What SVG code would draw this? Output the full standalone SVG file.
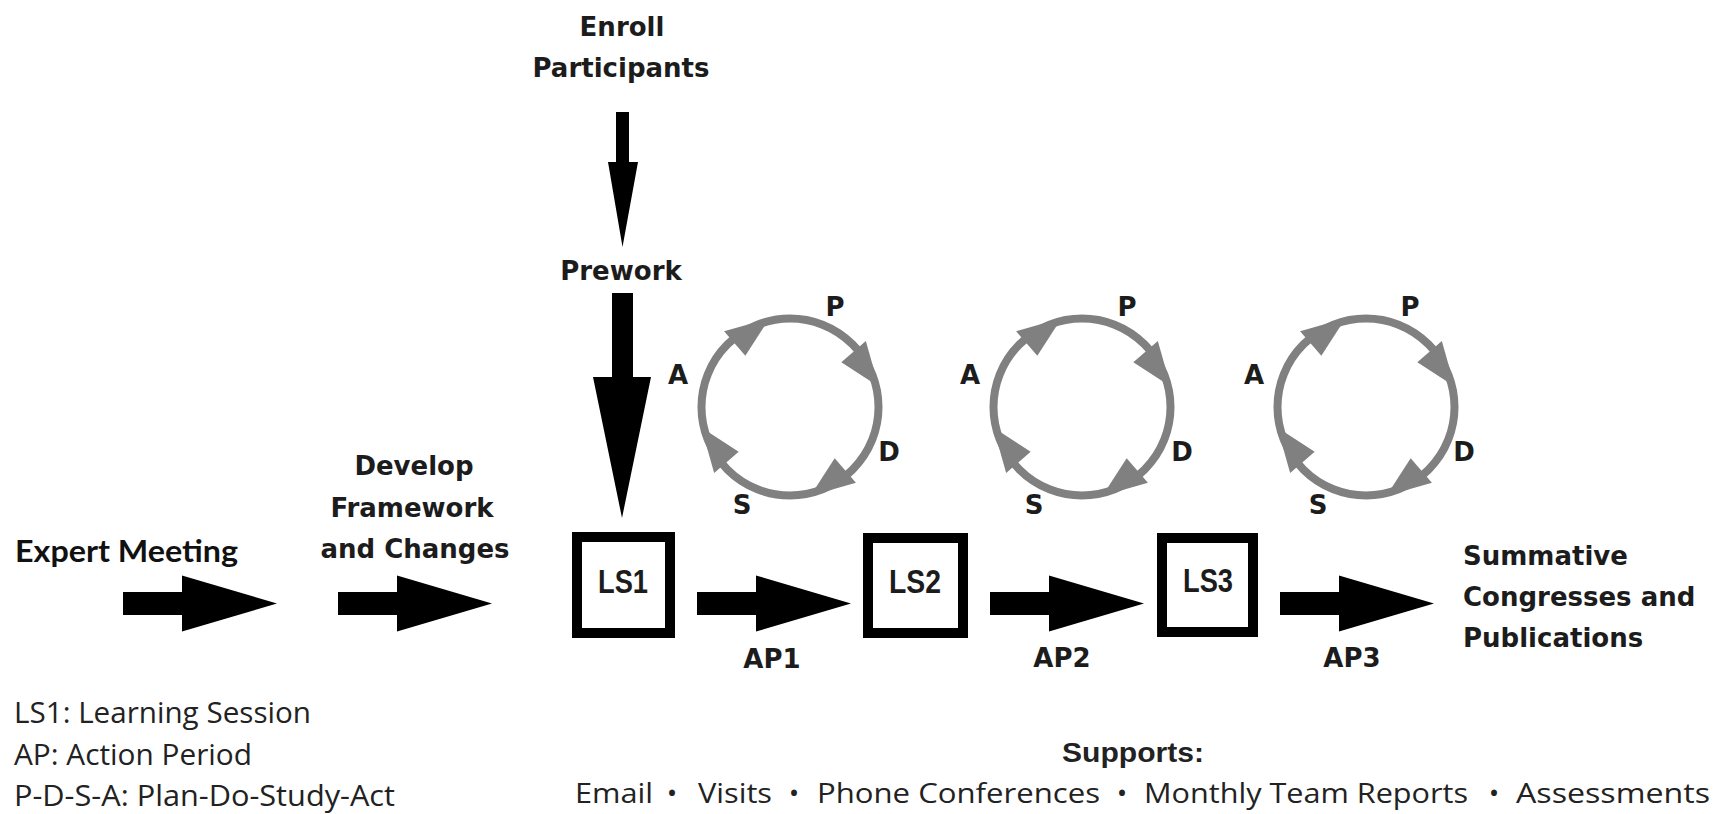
<svg xmlns="http://www.w3.org/2000/svg" xmlns:xlink="http://www.w3.org/1999/xlink" width="1727" height="814" viewBox="0 0 1727 814">
  <style>
    .lbl { font-family: "DejaVu Sans", "Liberation Sans", sans-serif; font-weight: bold; font-size: 26px; fill: #1c1c1c; }
    .mid { text-anchor: middle; }
    .expert { font-family: Lato, "Open Sans", sans-serif; font-weight: bold; font-size: 30px; fill: #111; }
    .ls { font-family: "Liberation Sans", Arial, sans-serif; font-weight: bold; font-size: 34px; fill: #1c1c1c; text-anchor: middle; }
    .legend { font-family: "Open Sans", "Liberation Sans", sans-serif; font-size: 28.5px; fill: #222; }
    .sup { font-family: "Open Sans", "Liberation Sans", sans-serif; font-size: 28px; fill: #222; }
    .supb { font-family: "Liberation Sans", Arial, sans-serif; font-weight: bold; font-size: 27px; fill: #222; text-anchor: middle; }
    .ring { fill: none; stroke: #808080; stroke-width: 8; }
    .ringhead { fill: #808080; }
    .box { fill: #fff; stroke: #000; stroke-width: 10; }
    .blk { fill: #000; }
  </style>
  <defs>
    <!-- one clockwise arrowhead on the ring, drawn at angle 0 -->
    <polygon id="ringHead" class="ringhead" points="66,-16.5 97.5,-24.3 88.3,22"/>
    <!-- P-D-S-A cycle ring with four clockwise arrowheads -->
    <g id="cycle">
      <circle class="ring" cx="0" cy="0" r="88.5"/>
      <use xlink:href="#ringHead" transform="rotate(-117)"/>
      <use xlink:href="#ringHead" transform="rotate(-27)"/>
      <use xlink:href="#ringHead" transform="rotate(63)"/>
      <use xlink:href="#ringHead" transform="rotate(153)"/>
    </g>
    <!-- block arrow pointing right, origin at tail centre -->
    <path id="blockRight" class="blk" d="M0,-11.5 H59 V-28 L154,0 L59,28 V11.5 H0 Z"/>
  </defs>

  <rect width="1727" height="814" fill="#fff"/>

  <!-- connectors -->
  <g id="connectors">
    <path id="arrow-enroll" class="blk" d="M616,112 H629 V162 H638 L622.5,247 L608,162 H616 Z"/>
    <path id="arrow-prework" class="blk" d="M612,293 H633 V377 H651 L622,518 L593,377 H612 Z"/>
    <use id="arrow-expert" xlink:href="#blockRight" x="123" y="603.5"/>
    <use id="arrow-develop" xlink:href="#blockRight" x="338" y="603.5"/>
    <use id="arrow-ap1" xlink:href="#blockRight" x="697" y="603.5"/>
    <use id="arrow-ap2" xlink:href="#blockRight" x="990" y="603.5"/>
    <use id="arrow-ap3" xlink:href="#blockRight" x="1280" y="603.5"/>
  </g>

  <g id="enroll">
    <text class="lbl mid" x="622" y="36">Enroll</text>
    <text class="lbl mid" x="621" y="77">Participants</text>
  </g>
  <g id="prework">
    <text class="lbl mid" x="621" y="280">Prework</text>
  </g>
  <g id="expert-meeting">
    <text class="expert" x="15" y="562" textLength="223" lengthAdjust="spacingAndGlyphs">Expert Meeting</text>
  </g>
  <g id="develop">
    <text class="lbl mid" x="414" y="475">Develop</text>
    <text class="lbl mid" x="412" y="517">Framework</text>
    <text class="lbl mid" x="415" y="558">and Changes</text>
  </g>

  <g id="ls1">
    <rect class="box" x="577" y="537" width="93" height="96"/>
    <text class="ls" x="623" y="593" textLength="50" lengthAdjust="spacingAndGlyphs">LS1</text>
  </g>
  <g id="ls2">
    <rect class="box" x="868" y="538" width="95" height="95"/>
    <text class="ls" x="915" y="593" textLength="52" lengthAdjust="spacingAndGlyphs">LS2</text>
  </g>
  <g id="ls3">
    <rect class="box" x="1162" y="538" width="91" height="94"/>
    <text class="ls" x="1208" y="592" textLength="50" lengthAdjust="spacingAndGlyphs">LS3</text>
  </g>

  <g id="ap-labels">
    <text class="lbl mid" x="772" y="668">AP1</text>
    <text class="lbl mid" x="1062" y="667">AP2</text>
    <text class="lbl mid" x="1352" y="667">AP3</text>
  </g>

  <g id="pdsa1">
    <use xlink:href="#cycle" x="790" y="407"/>
    <text class="lbl mid" x="678" y="384">A</text>
    <text class="lbl mid" x="835" y="316">P</text>
    <text class="lbl mid" x="889" y="461">D</text>
    <text class="lbl mid" x="742" y="514">S</text>
  </g>
  <g id="pdsa2">
    <use xlink:href="#cycle" x="1082" y="407"/>
    <text class="lbl mid" x="970" y="384">A</text>
    <text class="lbl mid" x="1127" y="316">P</text>
    <text class="lbl mid" x="1182" y="461">D</text>
    <text class="lbl mid" x="1034" y="514">S</text>
  </g>
  <g id="pdsa3">
    <use xlink:href="#cycle" x="1366" y="407"/>
    <text class="lbl mid" x="1254" y="384">A</text>
    <text class="lbl mid" x="1410" y="316">P</text>
    <text class="lbl mid" x="1464" y="461">D</text>
    <text class="lbl mid" x="1318" y="514">S</text>
  </g>

  <g id="summative">
    <text class="lbl" x="1463" y="565">Summative</text>
    <text class="lbl" x="1463" y="606">Congresses and</text>
    <text class="lbl" x="1463" y="647">Publications</text>
  </g>

  <g id="legend">
    <text class="legend" x="14" y="723" textLength="297" lengthAdjust="spacingAndGlyphs">LS1: Learning Session</text>
    <text class="legend" x="14" y="765" textLength="238" lengthAdjust="spacingAndGlyphs">AP: Action Period</text>
    <text class="legend" x="14" y="806" textLength="381" lengthAdjust="spacingAndGlyphs">P-D-S-A: Plan-Do-Study-Act</text>
  </g>

  <g id="supports">
    <text class="supb" x="1133" y="762" textLength="142" lengthAdjust="spacingAndGlyphs">Supports:</text>
    <text class="sup" x="575" y="803" textLength="78" lengthAdjust="spacingAndGlyphs">Email</text>
    <text class="sup mid" x="672" y="803">•</text>
    <text class="sup" x="698" y="803" textLength="74" lengthAdjust="spacingAndGlyphs">Visits</text>
    <text class="sup mid" x="794" y="803">•</text>
    <text class="sup" x="817" y="803" textLength="283" lengthAdjust="spacingAndGlyphs">Phone Conferences</text>
    <text class="sup mid" x="1122" y="803">•</text>
    <text class="sup" x="1144" y="803" textLength="324" lengthAdjust="spacingAndGlyphs">Monthly Team Reports</text>
    <text class="sup mid" x="1494" y="803">•</text>
    <text class="sup" x="1516" y="803" textLength="194" lengthAdjust="spacingAndGlyphs">Assessments</text>
  </g>
</svg>
